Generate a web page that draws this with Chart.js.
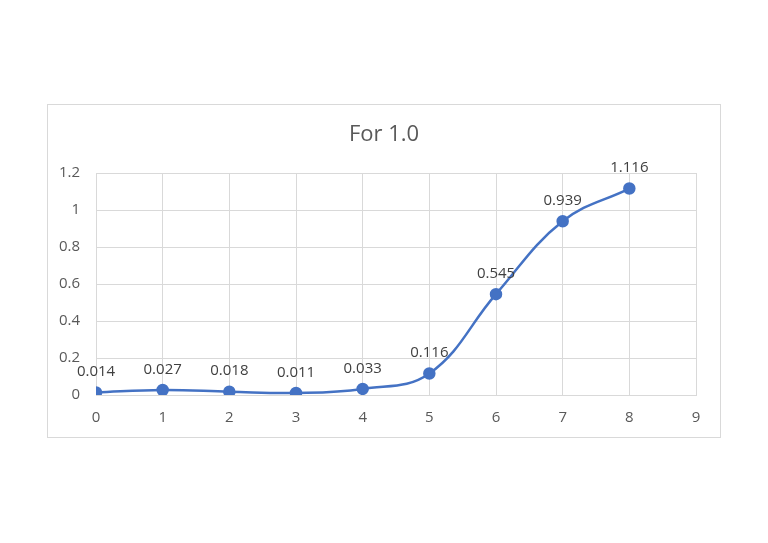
<!DOCTYPE html>
<html>
<head>
<meta charset="utf-8">
<script src="https://cdn.jsdelivr.net/npm/chart.js"></script>
<style>
  html,body{margin:0;padding:0;background:#fff}
  #wrap{width:768px;height:543px;position:relative}
</style>
</head>
<body>
<div id="wrap"><canvas id="grafik"></canvas></div>
<script>
const xValues = [0, 1, 2, 3, 4, 5, 6, 7, 8];
const yValues = [0.014, 0.027, 0.018, 0.011, 0.033, 0.116, 0.545, 0.939, 1.116];
const yTicks = [0, 0.2, 0.4, 0.6, 0.8, 1, 1.2];
const judul = "For 1.0";

const fontName = "'Open Sans', 'Liberation Sans', sans-serif";

// frame, judul, label angka di atas titik
const bingkai = {
  id: "bingkai",
  beforeDraw(c) {
    const ctx = c.ctx;
    ctx.save();
    ctx.fillStyle = "#fff";
    ctx.fillRect(0, 0, c.width, c.height);
    ctx.strokeStyle = "#d9d9d9";
    ctx.lineWidth = 1;
    ctx.strokeRect(47.5, 104.5, 673, 333);
    ctx.font = "22px " + fontName;
    ctx.fillStyle = "#595959";
    ctx.textAlign = "center";
    ctx.textBaseline = "middle";
    ctx.fillText(judul, 384, 135);
    ctx.restore();
  },
  afterDatasetsDraw(c) {
    const ctx = c.ctx;
    const meta = c.getDatasetMeta(0);
    ctx.save();
    ctx.font = "15px " + fontName;
    ctx.fillStyle = "#404040";
    ctx.textAlign = "center";
    ctx.textBaseline = "bottom";
    meta.data.forEach((p, i) => {
      ctx.fillText(yValues[i].toFixed(3), p.x, p.y - 13);
    });
    ctx.restore();
  }
};

new Chart(document.getElementById("grafik"), {
  type: "scatter",
  data: {
    datasets: [{
      data: xValues.map((x, i) => ({x: x, y: yValues[i]})),
      showLine: true,
      borderColor: "#4472c4",
      backgroundColor: "#4472c4",
      borderWidth: 2.5,
      pointRadius: 5,
      pointHoverRadius: 5,
      tension: 0.4
    }]
  },
  options: {
    responsive: true,
    maintainAspectRatio: false,
    animation: false,
    layout: {padding: {top: 173, right: 72, left: 0, bottom: 0}},
    plugins: {
      legend: {display: false},
      tooltip: {enabled: false},
      title: {display: false}
    },
    scales: {
      x: {
        type: "linear",
        min: 0, max: 9,
        afterFit(s) { s.height = 148; },
        ticks: {stepSize: 1, color: "#595959", padding: 14, font: {family: fontName, size: 15}},
        grid: {color: "#d9d9d9", lineWidth: 1, drawTicks: false},
        border: {color: "#d9d9d9"}
      },
      y: {
        min: 0, max: 1.2,
        afterFit(s) { s.width = 96; },
        afterBuildTicks(s) { s.ticks = yTicks.map(v => ({value: v})); },
        ticks: {color: "#595959", padding: 16, font: {family: fontName, size: 15},
          callback: v => String(v)},
        grid: {color: "#d9d9d9", lineWidth: 1, drawTicks: false},
        border: {display: false}
      }
    }
  },
  plugins: [bingkai]
});
</script>
</body>
</html>
